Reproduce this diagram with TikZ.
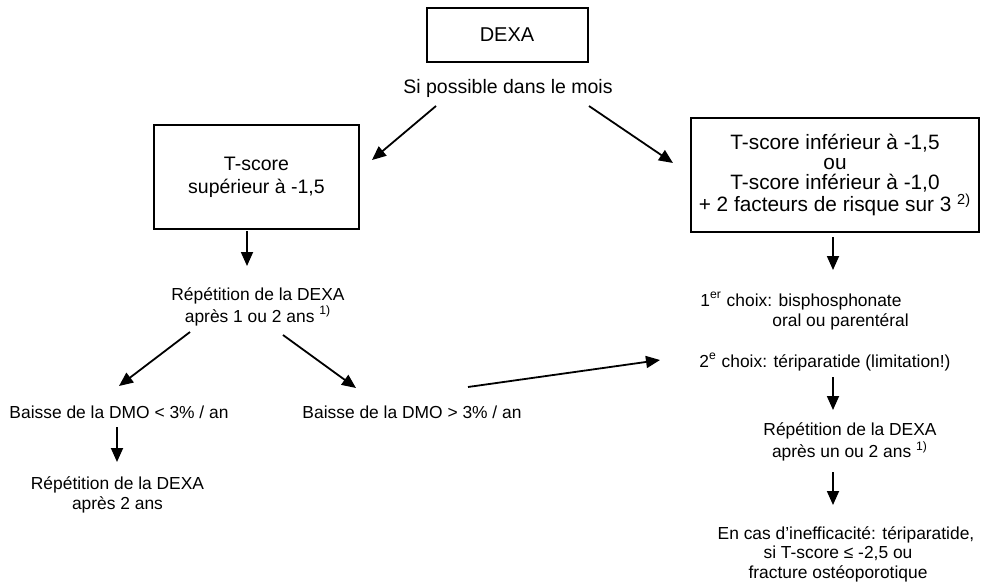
\documentclass[tikz,border=0pt]{standalone}
\usepackage{fontspec}
\setmainfont{Liberation Sans}
\usetikzlibrary{arrows.meta,calc}

\begin{document}
\begin{tikzpicture}[x=0.5pt, y=-0.5pt,
  box/.style={draw, line width=1pt, align=center, inner sep=1pt},
  txt/.style={align=center, inner sep=1pt, font=\fontsize{8.7}{10}\selectfont},
  arr/.style={line width=0.9pt, -{Triangle[length=7pt,width=6pt]}},
  font=\fontsize{9.75}{10}\selectfont]
  \useasboundingbox (0,0) rectangle (981,584);
  % boxes
  \node[box, minimum width=80.5pt, minimum height=27pt, font=\fontsize{10}{10}\selectfont] (dexa) at (507,35) {DEXA};
  \node[txt, font=\fontsize{9.75}{10}\selectfont] (mois) at (508,88) {Si possible dans le mois};
  \node[box, minimum width=102.5pt, minimum height=52pt, font=\fontsize{9.75}{11.5}\selectfont] (tsup) at (256.5,177) {T-score\\supérieur à -1,5};
  \node[box, minimum width=144pt, minimum height=57pt, font=\fontsize{10.4}{10}\selectfont] (tinf) at (835,175) {T-score inférieur à -1,5\\ou\\T-score inférieur à -1,0\\+ 2 facteurs de risque sur 3 \textsuperscript{2)}};
  % left branch
  \node[txt] (rep1) at (258,307) {Répétition de la DEXA\\après 1 ou 2 ans \textsuperscript{1)}};
  \node[txt] (baisseA) at (119,412) {Baisse de la DMO < 3\% / an};
  \node[txt] (baisseB) at (412,412) {Baisse de la DMO > 3\% / an};
  \node[txt] (rep2) at (117.5,495) {Répétition de la DEXA\\après 2 ans};
  % right branch
  \node[txt, anchor=west, align=left] (choix1) at (698,311) {1\textsuperscript{er} choix: bisphosphonate\\\hspace*{36pt}oral ou parentéral};
  \node[txt, anchor=west] (choix2) at (697,362) {2\textsuperscript{e} choix: tériparatide (limitation!)};
  \node[txt] (rep3) at (850,442) {Répétition de la DEXA\\après un ou 2 ans \textsuperscript{1)}};
  \node[txt, font=\fontsize{8.7}{9.75}\selectfont] (fin) at (838,554) {\hspace*{8pt}En cas d’inefficacité: tériparatide,\\si T-score ≤ -2,5 ou\\fracture ostéoporotique};
  % arrows
  \draw[arr] ($(mois)+(-72,18)$) -- ($(tsup)+(115.5,-17)$);
  \draw[arr] ($(mois)+(81,18)$) -- ($(tinf)+(-162,-12)$);
  \draw[arr] ($(tsup)+(-9.5,54)$) -- ($(rep1)+(-11,-41)$);
  \draw[arr] ($(tinf)+(-2,62)$) -- ($(choix1.west)+(135,-41)$);
  \draw[arr] ($(rep1)+(-68,25)$) -- ($(baisseA)+(0,-26)$);
  \draw[arr] ($(rep1)+(25,28)$) -- ($(baisseB)+(-56,-24)$);
  \draw[arr] ($(baisseA)+(-2,15)$) -- ($(rep2)+(-0.5,-33)$);
  \draw[arr] ($(baisseB)+(56,-25)$) -- ($(choix2.west)+(-37,-2)$);
  \draw[arr] ($(choix2.west)+(136,15)$) -- ($(rep3)+(-17,-32)$);
  \draw[arr] ($(rep3)+(-17,30)$) -- ($(fin)+(-5,-49)$);
\end{tikzpicture}
\end{document}
